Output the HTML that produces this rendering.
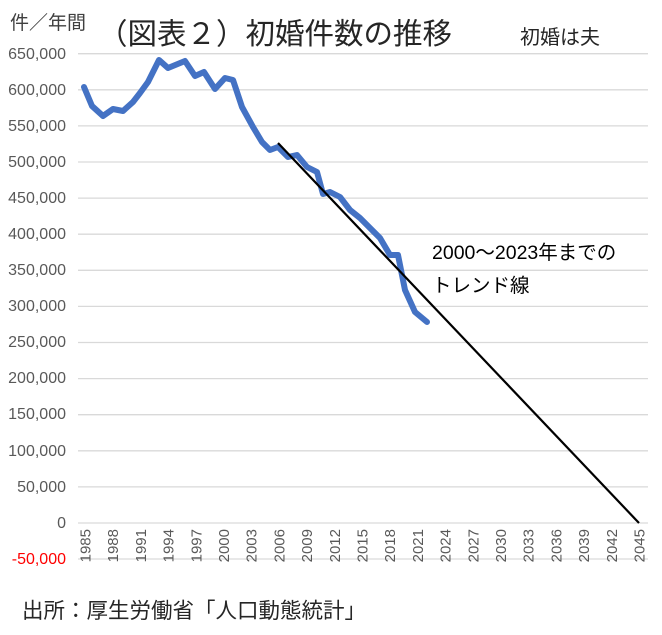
<!DOCTYPE html>
<html><head><meta charset="utf-8"><style>
body{margin:0;background:#fff;}
svg text{font-family:"Liberation Sans","Noto Sans CJK JP",sans-serif;}
</style></head><body>
<svg width="662" height="630" viewBox="0 0 662 630" xmlns="http://www.w3.org/2000/svg">
<rect width="662" height="630" fill="#fff"/>
<g stroke="#d9d9d9" stroke-width="1.3">
<line x1="78" x2="648" y1="53.7" y2="53.7"/><line x1="78" x2="648" y1="89.8" y2="89.8"/><line x1="78" x2="648" y1="125.9" y2="125.9"/><line x1="78" x2="648" y1="162" y2="162"/><line x1="78" x2="648" y1="198.1" y2="198.1"/><line x1="78" x2="648" y1="234.2" y2="234.2"/><line x1="78" x2="648" y1="270.3" y2="270.3"/><line x1="78" x2="648" y1="306.4" y2="306.4"/><line x1="78" x2="648" y1="342.5" y2="342.5"/><line x1="78" x2="648" y1="378.6" y2="378.6"/><line x1="78" x2="648" y1="414.7" y2="414.7"/><line x1="78" x2="648" y1="450.8" y2="450.8"/><line x1="78" x2="648" y1="486.9" y2="486.9"/><line x1="78" x2="648" y1="523" y2="523"/><line x1="78" x2="648" y1="559" y2="559"/>
</g>
<g font-size="16" fill="#595959" text-anchor="end">
<text x="66" y="59">650,000</text><text x="66" y="95">600,000</text><text x="66" y="131">550,000</text><text x="66" y="167">500,000</text><text x="66" y="203">450,000</text><text x="66" y="239">400,000</text><text x="66" y="275">350,000</text><text x="66" y="311">300,000</text><text x="66" y="347">250,000</text><text x="66" y="383">200,000</text><text x="66" y="419">150,000</text><text x="66" y="456">100,000</text><text x="66" y="492">50,000</text><text x="66" y="528">0</text><text x="66" y="564" fill="#ff0000">-50,000</text>
</g>
<g font-size="15" fill="#595959" text-anchor="end">
<text transform="translate(90.5,529) rotate(-90)">1985</text>
<text transform="translate(118.2,529) rotate(-90)">1988</text>
<text transform="translate(145.9,529) rotate(-90)">1991</text>
<text transform="translate(173.6,529) rotate(-90)">1994</text>
<text transform="translate(201.3,529) rotate(-90)">1997</text>
<text transform="translate(229,529) rotate(-90)">2000</text>
<text transform="translate(256.7,529) rotate(-90)">2003</text>
<text transform="translate(284.4,529) rotate(-90)">2006</text>
<text transform="translate(312.1,529) rotate(-90)">2009</text>
<text transform="translate(339.8,529) rotate(-90)">2012</text>
<text transform="translate(367.5,529) rotate(-90)">2015</text>
<text transform="translate(395.2,529) rotate(-90)">2018</text>
<text transform="translate(422.9,529) rotate(-90)">2021</text>
<text transform="translate(450.6,529) rotate(-90)">2024</text>
<text transform="translate(478.3,529) rotate(-90)">2027</text>
<text transform="translate(506,529) rotate(-90)">2030</text>
<text transform="translate(533.7,529) rotate(-90)">2033</text>
<text transform="translate(561.4,529) rotate(-90)">2036</text>
<text transform="translate(589.1,529) rotate(-90)">2039</text>
<text transform="translate(616.8,529) rotate(-90)">2042</text>
<text transform="translate(644.5,529) rotate(-90)">2045</text>
</g>
<polyline fill="none" stroke="#4472c4" stroke-width="6" stroke-linejoin="round" stroke-linecap="round" points="84,87 92,106 103,116 113,109 123,111 133,102 140,93 148,82 159,60 168,68 185,61 195,76 204,72 215,89 225,78 233,80 242,107 253,127 262,142 270,150 278,147 288,157 297,155 307,167 317,172 323,194 330,192 340,197 350,210 360,218 370,228 380,238 390,255 398,255 405,290 415,312 427,322"/>
<line x1="278" y1="143" x2="639" y2="523" stroke="#000" stroke-width="2.2"/>
<text x="10" y="29" font-size="19" fill="#404040">件／年間</text>
<text x="98" y="44" font-size="29.5" fill="#262626">（図表２）初婚件数の推移</text>
<text x="520" y="44" font-size="20" fill="#262626">初婚は夫</text>
<text x="432" y="259" font-size="19.5" fill="#000">2000〜2023年までの</text>
<text x="432" y="292" font-size="19.5" fill="#000">トレンド線</text>
<text x="22" y="618" font-size="21.5" fill="#262626">出所：厚生労働省「人口動態統計」</text>
</svg>
</body></html>
